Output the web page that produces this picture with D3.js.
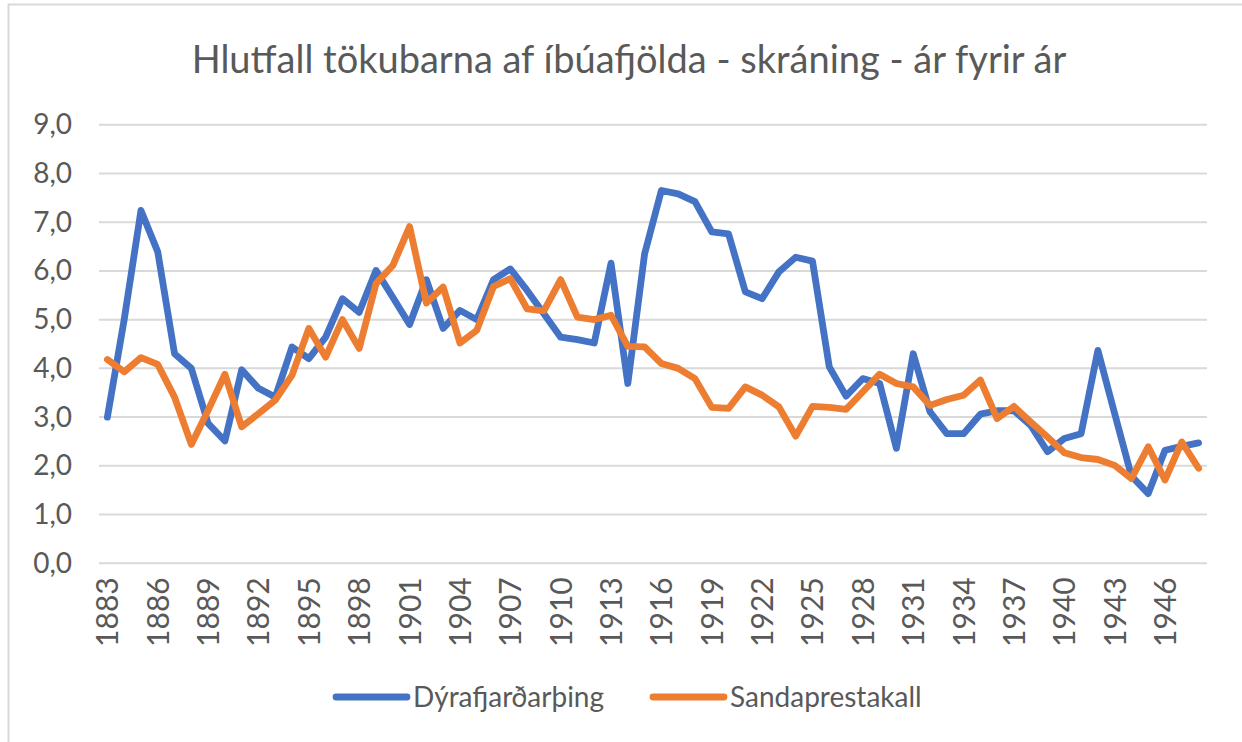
<!DOCTYPE html>
<html>
<head>
<meta charset="utf-8">
<script src="https://cdn.jsdelivr.net/npm/d3@7"></script>
<style>
  body { margin: 0; background: #fff; }
  svg text { font-family: Lato, "Open Sans", sans-serif; fill: #595959; }
</style>
</head>
<body>
<svg class="chart"></svg>
<script>
// data
var years = d3.range(1883, 1949);
var tickYears = d3.range(1883, 1949, 3);
var yTicks = [0, 1, 2, 3, 4, 5, 6, 7, 8, 9];
var seriesNames = ["Dýrafjarðarþing", "Sandaprestakall"];

var dyrafjordur = [3.0, 5.0, 7.24, 6.39, 4.30, 4.0, 2.87, 2.51, 3.97, 3.59,
  3.41, 4.44, 4.20, 4.64, 5.43, 5.15, 6.01, 5.46, 4.90, 5.82,
  4.82, 5.19, 5.0, 5.82, 6.04, 5.6, 5.12, 4.64, 4.59, 4.52,
  6.16, 3.69, 6.35, 7.65, 7.58, 7.42, 6.80, 6.76, 5.57, 5.43,
  5.98, 6.28, 6.20, 4.03, 3.43, 3.79, 3.69, 2.36, 4.30, 3.11,
  2.66, 2.66, 3.06, 3.13, 3.13, 2.83, 2.29, 2.56, 2.66, 4.37,
  3.07, 1.79, 1.43, 2.32, 2.40, 2.47];

var sandar = [4.18, 3.93, 4.22, 4.08, 3.41, 2.44, 3.14, 3.88, 2.80, 3.07,
  3.35, 3.86, 4.82, 4.23, 5.0, 4.41, 5.74, 6.11, 6.91, 5.34,
  5.67, 4.52, 4.78, 5.68, 5.84, 5.22, 5.18, 5.82, 5.05, 5.0,
  5.09, 4.45, 4.44, 4.10, 4.0, 3.79, 3.20, 3.18, 3.62, 3.45,
  3.21, 2.61, 3.22, 3.20, 3.16, 3.52, 3.88, 3.69, 3.62, 3.24,
  3.36, 3.45, 3.76, 2.97, 3.22, 2.90, 2.59, 2.27, 2.17, 2.13,
  2.01, 1.74, 2.39, 1.71, 2.49, 1.95];

var colors = ["#4472C4", "#ED7D31"];

var chartWidth = 1242, chartHeight = 742;
var plotLeft = 99, plotRight = 1207, plotTop = 124.7, plotBottom = 563.3;

var svg = d3.select(".chart").attr("width", chartWidth).attr("height", chartHeight);

// chart border (only left + top visible in the picture)
svg.append("rect")
   .attr("x", 8.5).attr("y", 4.5)
   .attr("width", 1260).attr("height", 760)
   .attr("fill", "none")
   .attr("stroke", "#d9d9d9")
   .attr("stroke-width", 2);

var x = d3.scalePoint().domain(years).range([plotLeft, plotRight]).padding(0.5);
var y = d3.scaleLinear().domain([0, 9]).range([plotBottom, plotTop]);

// title
svg.append("text")
   .attr("x", 629)
   .attr("y", 73)
   .style("text-anchor", "middle")
   .style("font-size", "38px")
   .text("Hlutfall tökubarna af íbúafjölda - skráning - ár fyrir ár");

// gridlines
svg.append("g").selectAll("line")
   .data(yTicks)
   .enter().append("line")
   .attr("x1", plotLeft).attr("x2", plotRight)
   .attr("y1", function(d) { return y(d); })
   .attr("y2", function(d) { return y(d); })
   .attr("stroke", "#d9d9d9")
   .attr("stroke-width", 2);

// y axis labels
var yAxis = svg.append("g")
   .attr("transform", "translate(" + (plotLeft - 27) + ",0)")
   .call(d3.axisLeft(y).tickValues(yTicks).tickSize(0).tickPadding(0)
     .tickFormat(function(d) { return d3.format(".1f")(d).replace(".", ","); }));
yAxis.select(".domain").remove();
yAxis.selectAll("text").style("font-size", "28px").attr("fill", null);

// x axis labels, rotated
var xAxis = svg.append("g")
   .attr("transform", "translate(0," + plotBottom + ")")
   .call(d3.axisBottom(x).tickValues(tickYears).tickSize(0).tickPadding(0));
xAxis.select(".domain").remove();
xAxis.selectAll("text")
   .attr("fill", null)
   .style("font-size", "30px")
   .style("text-anchor", "end")
   .attr("transform", "rotate(-90)")
   .attr("x", -14)
   .attr("y", 0)
   .attr("dy", "0.35em");

// lines
var line = d3.line()
   .x(function(d, i) { return x(years[i]); })
   .y(function(d) { return y(d); });

[dyrafjordur, sandar].forEach(function(s, i) {
  svg.append("path")
     .datum(s)
     .attr("d", line)
     .attr("fill", "none")
     .attr("stroke", colors[i])
     .attr("stroke-width", 6.8)
     .attr("stroke-linejoin", "round")
     .attr("stroke-linecap", "round");
});

// legend
var legendX = [336, 653];
seriesNames.forEach(function(name, i) {
  var g = svg.append("g").attr("transform", "translate(" + legendX[i] + ",697)");
  g.append("line")
   .attr("x1", 0).attr("x2", 71)
   .attr("stroke", colors[i])
   .attr("stroke-width", 6.8)
   .attr("stroke-linecap", "round");
  g.append("text")
   .attr("x", 77)
   .attr("dy", "0.35em")
   .style("font-size", "28px")
   .text(name);
});
</script>
</body>
</html>
